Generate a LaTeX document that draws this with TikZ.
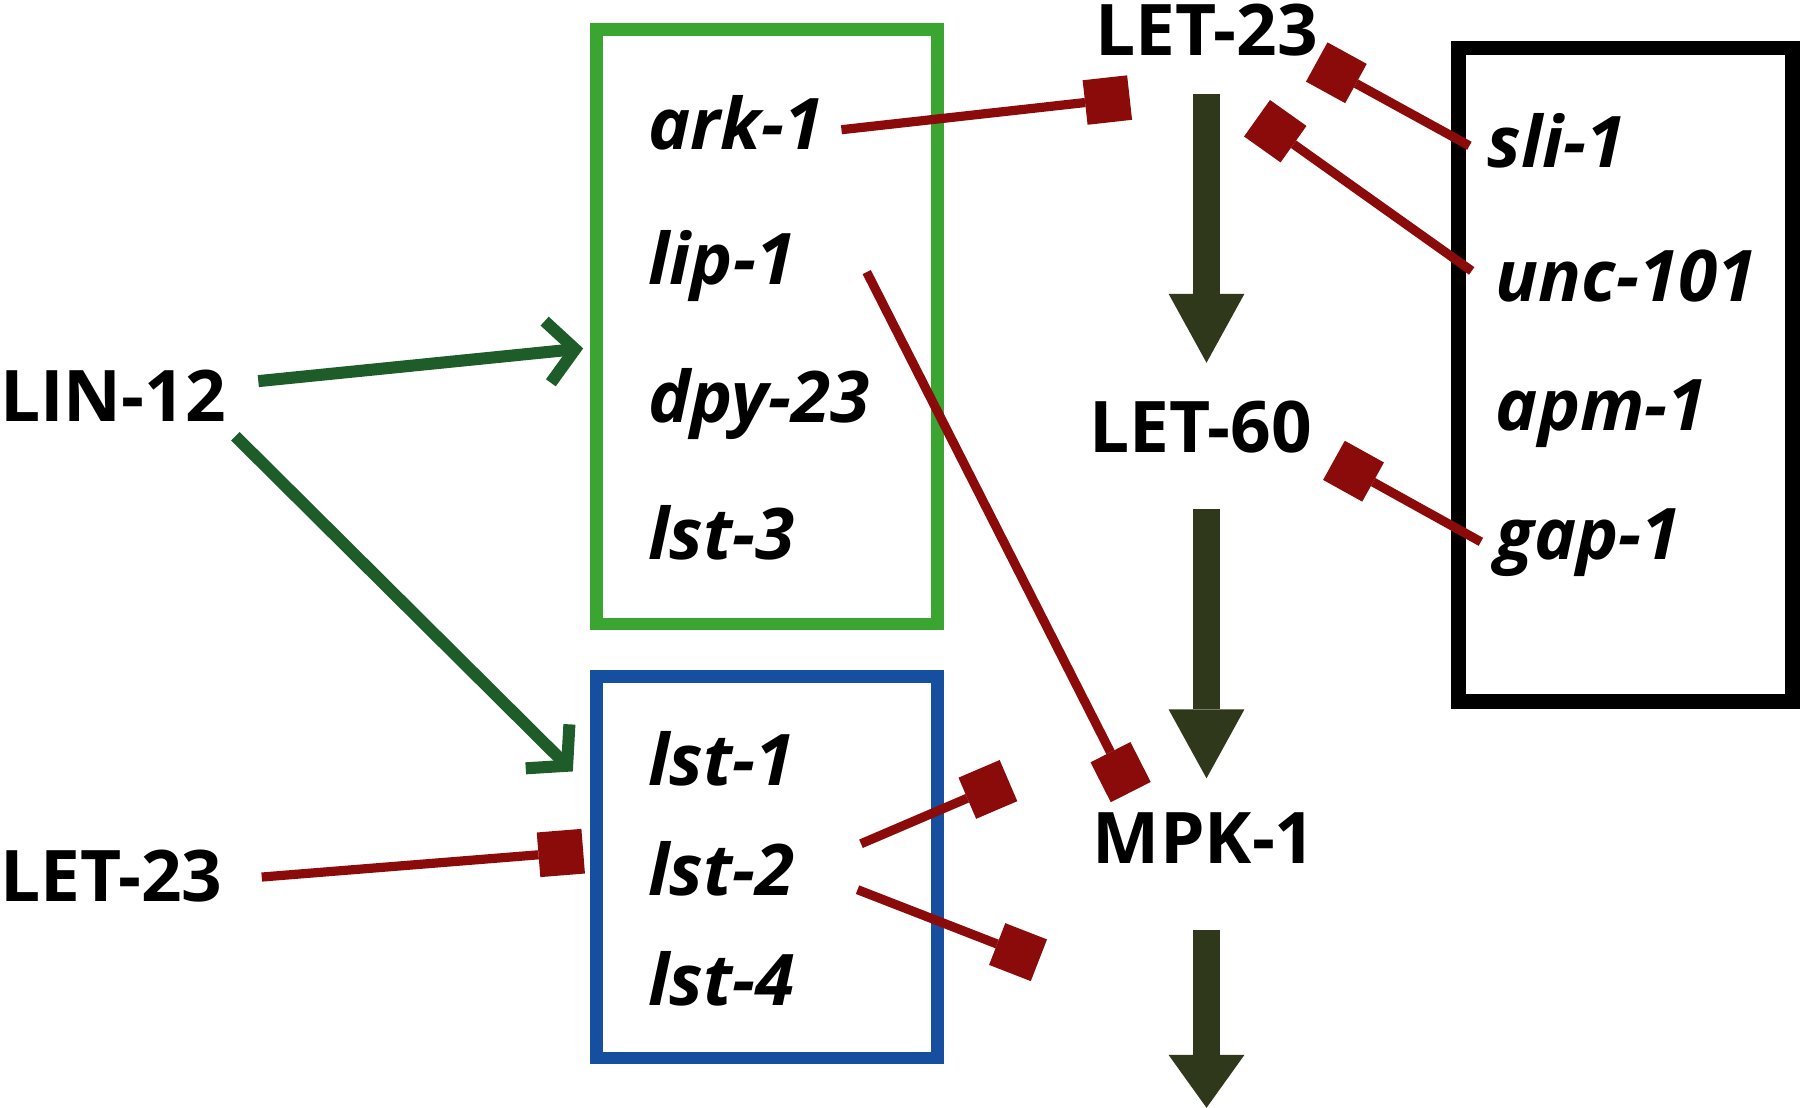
\documentclass[tikz,border=0pt]{standalone}
\usepackage{fontspec}
\setmainfont{Open Sans}
\usetikzlibrary{arrows.meta}
\definecolor{gboxc}{RGB}{58,165,48}
\definecolor{bboxc}{RGB}{22,78,160}
\definecolor{garrow}{RGB}{30,92,42}
\definecolor{inh}{RGB}{139,11,11}
\definecolor{olivearrow}{RGB}{47,56,27}
\begin{document}
\begin{tikzpicture}[x=1pt,y=-1pt,
  prot/.style={font=\fontsize{62}{70}\selectfont\bfseries, inner sep=0pt, outer sep=0pt},
  gene/.style={font=\fontsize{62}{70}\selectfont\bfseries\itshape, inner sep=0pt, outer sep=0pt, anchor=base west},
  inhib/.style={draw=inh, line width=8pt, -{Square[length=39pt,width=39pt,line width=0pt]}},
  act/.style={draw=garrow, line width=10.5pt, -{Straight Barb[length=24pt,width=54pt]}},
  flow/.style={draw=olivearrow, line width=23pt, -{Triangle[length=60pt,width=66pt,line width=0pt]}},
  boxn/.style={draw, inner sep=0pt, outer sep=0pt}
]
\useasboundingbox (0,0) rectangle (1568,965);
% boxes
\node[boxn, draw=gboxc, line width=11pt, minimum width=297pt, minimum height=518pt] (greenbox) at (668,284.5) {};
\node[boxn, draw=bboxc, line width=11pt, minimum width=297pt, minimum height=332pt] (bluebox) at (668,755.5) {};
\node[boxn, draw=black, line width=12.5pt, minimum width=291pt, minimum height=569pt] (blackbox) at (1416,326.5) {};
% proteins
\node[prot, anchor=base west] (lin) at (0,367) {LIN-12};
\node[prot, anchor=base west] (letL) at (0,785) {LET-23};
\node[prot, anchor=base] (letT) at (1051,48) {LET-23};
\node[prot, anchor=base] (let60) at (1046,394) {LET-60};
\node[prot, anchor=base] (mpk) at (1049,752) {MPK-1};
% genes
\node[gene] (ark) at (565,130) {ark-1};
\node[gene] (lip) at (565,248) {lip-1};
\node[gene] (dpy) at (565,368) {dpy-23};
\node[gene] (lst3) at (565,487) {lst-3};
\node[gene] (lst1) at (565,684) {lst-1};
\node[gene] (lst2) at (565,780) {lst-2};
\node[gene] (lst4) at (565,876) {lst-4};
\node[gene] (sli) at (1296,146) {sli-1};
\node[gene] (unc) at (1303,263) {unc-101};
\node[gene] (apm) at (1303,375) {apm-1};
\node[gene] (gap) at (1303,487) {gap-1};
% activation arrows
\draw[act] ([shift={(225,-35)}]lin.base west) -- ([shift={(-11.5,19)}]greenbox.west);
\draw[act] ([shift={(205,13)}]lin.base west) -- ([shift={(-20.5,82.5)}]bluebox.north west);
% inhibitions
\draw[inhib] ([shift={(168,-17)}]ark.base west) -- ([shift={(-67,37)}]letT.base);
\draw[inhib] ([shift={(-16,-19)}]sli.base west) -- ([shift={(96,6)}]letT.base);
\draw[inhib] ([shift={(-21,-27)}]unc.base west) -- ([shift={(44,55)}]letT.base);
\draw[inhib] ([shift={(-13,-15)}]gap.base west) -- ([shift={(116,7)}]let60.base);
\draw[inhib] ([shift={(190,-11)}]lip.base west) -- ([shift={(-64,-62)}]mpk.base);
\draw[inhib] ([shift={(228,-21)}]letL.base west) -- ([shift={(-11.5,-14)}]bluebox.west);
\draw[inhib] ([shift={(185,-45)}]lst2.base west) -- ([shift={(-170.5,-72)}]mpk.base);
\draw[inhib] ([shift={(182,-5)}]lst2.base west) -- ([shift={(-144,84.5)}]mpk.base);
% pathway arrows
\draw[flow] ([shift={(0,34)}]letT.base) -- ([shift={(5,-78)}]let60.base);
\draw[flow] ([shift={(5,49)}]let60.base) -- ([shift={(2,-74)}]mpk.base);
\coordinate (down) at (1051,965);
\draw[flow, -{Triangle[length=46pt,width=66pt,line width=0pt]}] ([shift={(2,58)}]mpk.base) -- (down);
\end{tikzpicture}
\end{document}
